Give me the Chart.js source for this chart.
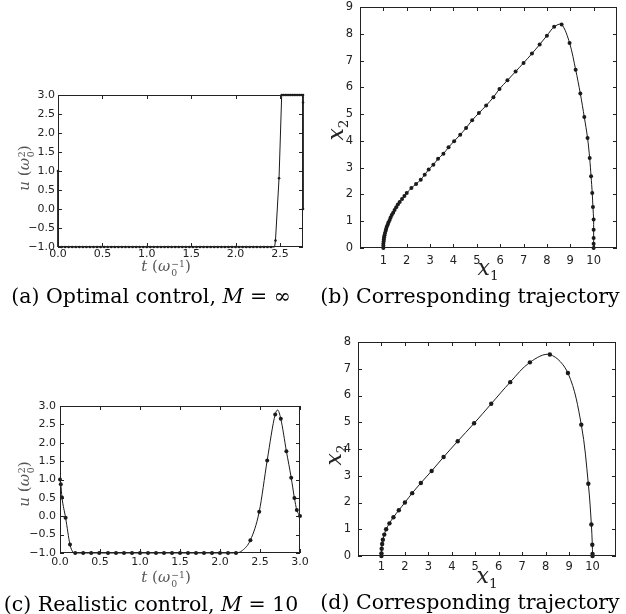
<!DOCTYPE html>
<html>
<head>
<meta charset="utf-8">
<script src="https://cdn.jsdelivr.net/npm/chart.js@4.4.1/dist/chart.umd.min.js"></script>
<style>
  html, body { margin: 0; padding: 0; background: #fff; }
  body { width: 626px; height: 614px; position: relative; overflow: hidden; font-family: "DejaVu Serif", serif; }
  .panel { position: absolute; width: 313px; height: 307px; }
  .panel canvas { position: absolute; left: 0; top: 0; }
  .cap { position: absolute; font-size: 20.5px; line-height: 1; color: #000; white-space: nowrap; transform: translateX(-50%); }
  .ttl { position: absolute; line-height: 1; white-space: nowrap; transform: translate(-50%, -50%); }
  .ttl.rot { transform: translate(-50%, -50%) rotate(-90deg); }
  .ttl.u { font-size: 15px; color: #555; }
  .ttl.x { font-size: 22px; color: #222; }
  .ss { display: inline-flex; flex-direction: column; font-size: 0.62em; line-height: 1; vertical-align: 0.45em; margin-left: 1px; }
  .sub { font-size: 0.62em; vertical-align: -0.35em; }
</style>
</head>
<body>

<div class="panel" style="left:0;top:0"><canvas id="chartA" width="313" height="307"></canvas></div>
<div class="panel" style="left:313px;top:0"><canvas id="chartB" width="313" height="307"></canvas></div>
<div class="panel" style="left:0;top:307px"><canvas id="chartC" width="313" height="307"></canvas></div>
<div class="panel" style="left:313px;top:307px"><canvas id="chartD" width="313" height="307"></canvas></div>

<!-- axis titles -->
<div class="ttl u rot" style="left:26px;top:168px"><i>u</i> (<i>ω</i><span class="ss"><span>2</span><span>0</span></span>)</div>
<div class="ttl u" style="left:166px;top:268px"><i>t</i> (<i>ω</i><span class="ss"><span>−1</span><span>0</span></span>)</div>
<div class="ttl x rot" style="left:338px;top:130px"><i>x</i><span class="sub">2</span></div>
<div class="ttl x" style="left:488px;top:270px"><i>x</i><span class="sub">1</span></div>

<div class="ttl u rot" style="left:26px;top:484px"><i>u</i> (<i>ω</i><span class="ss"><span>2</span><span>0</span></span>)</div>
<div class="ttl u" style="left:166px;top:579px"><i>t</i> (<i>ω</i><span class="ss"><span>−1</span><span>0</span></span>)</div>
<div class="ttl x rot" style="left:336px;top:455px"><i>x</i><span class="sub">2</span></div>
<div class="ttl x" style="left:487px;top:578px"><i>x</i><span class="sub">1</span></div>

<!-- captions -->
<div class="cap" style="left:151px;top:286px">(a) Optimal control, <i>M</i> = ∞</div>
<div class="cap" style="left:470px;top:286px">(b) Corresponding trajectory</div>
<div class="cap" style="left:151px;top:594px">(c) Realistic control, <i>M</i> = 10</div>
<div class="cap" style="left:470px;top:592px">(d) Corresponding trajectory</div>

<script>
/* =========================
   DATA
========================= */

// (a) optimal control, bang-bang
const aLineT = [0, 0, 2.44, 2.45, 2.49, 2.52, 2.76, 2.76];
const aLineU = [1.0, -1.0, -1.0, -0.83, 0.81, 3.0, 3.0, 0.0];
const aDotT = [0, 0.04, 0.08, 0.12, 0.16, 0.2, 0.24, 0.28, 0.32, 0.36, 0.4, 0.44, 0.48, 0.52, 0.56, 0.6,
  0.64, 0.68, 0.72, 0.76, 0.8, 0.84, 0.88, 0.92, 0.96, 1.0, 1.04, 1.08, 1.12, 1.16, 1.2, 1.24, 1.28,
  1.32, 1.36, 1.4, 1.44, 1.48, 1.52, 1.56, 1.6, 1.64, 1.68, 1.72, 1.76, 1.8, 1.84, 1.88, 1.92, 1.96,
  2.0, 2.04, 2.08, 2.12, 2.16, 2.2, 2.24, 2.28, 2.32, 2.36, 2.4, 2.45, 2.49,
  2.52, 2.54, 2.56, 2.58, 2.6, 2.62, 2.64, 2.66, 2.68, 2.7, 2.72, 2.74, 2.76, 2.76, 2.76];
const aDotU = [1.0, -1, -1, -1, -1, -1, -1, -1, -1, -1, -1, -1, -1, -1, -1, -1,
  -1, -1, -1, -1, -1, -1, -1, -1, -1, -1, -1, -1, -1, -1, -1, -1, -1,
  -1, -1, -1, -1, -1, -1, -1, -1, -1, -1, -1, -1, -1, -1, -1, -1, -1,
  -1, -1, -1, -1, -1, -1, -1, -1, -1, -1, -1, -0.83, 0.81,
  3, 3, 3, 3, 3, 3, 3, 3, 3, 3, 3, 3, 3, 2.8, 0.0];

// (b) trajectory for (a)
const bX = [1.0, 1.0, 1.0, 1.01, 1.02, 1.03, 1.05, 1.07, 1.1, 1.12, 1.15, 1.19, 1.22, 1.27, 1.31, 1.36,
  1.42, 1.48, 1.55, 1.62, 1.7, 1.8, 1.9, 2.0, 2.2, 2.4, 2.6, 2.77, 2.94, 3.14, 3.34, 3.57, 3.79, 4.03,
  4.29, 4.54, 4.8, 5.09, 5.4, 5.71, 5.97, 6.31, 6.66, 7.0, 7.36, 7.69, 8.0, 8.31, 8.63, 8.97, 9.23,
  9.43, 9.6, 9.74, 9.83, 9.89, 9.94, 9.97, 10.0, 10.0, 10.0, 10.0, 10.0];
const bY = [0.0, 0.08, 0.16, 0.24, 0.32, 0.4, 0.48, 0.56, 0.64, 0.72, 0.8, 0.88, 0.96, 1.05, 1.14, 1.23,
  1.32, 1.42, 1.52, 1.62, 1.72, 1.83, 1.94, 2.05, 2.24, 2.39, 2.55, 2.74, 2.93, 3.11, 3.33, 3.52, 3.76, 3.99,
  4.23, 4.48, 4.77, 5.04, 5.32, 5.63, 5.94, 6.26, 6.59, 6.91, 7.26, 7.6, 7.93, 8.26, 8.35, 7.66, 6.66,
  5.77, 4.89, 4.11, 3.36, 2.68, 2.05, 1.53, 1.06, 0.68, 0.37, 0.16, 0.0];

// (c) realistic control, M = 10
const cLineT = [0, 0.01, 0.025, 0.07, 0.125, 0.16, 0.19, 2.2, 2.28, 2.38, 2.49, 2.59, 2.69, 2.72, 2.76, 2.83, 2.89, 2.93, 2.96, 3.0];
const cLineU = [1.0, 0.87, 0.51, -0.04, -0.77, -0.97, -1.0, -1.0, -0.93, -0.65, 0.12, 1.52, 2.77, 2.89, 2.65, 1.77, 1.05, 0.5, 0.17, 0.01];
const cDotT = [0, 0.01, 0.025, 0.07, 0.125, 0.19, 0.29, 0.39, 0.49, 0.6, 0.7, 0.8, 0.9, 1.0, 1.1, 1.2, 1.3,
  1.4, 1.5, 1.6, 1.7, 1.8, 1.9, 2.0, 2.1, 2.2, 2.38, 2.49, 2.59, 2.69, 2.76, 2.83, 2.89, 2.93, 2.96, 3.0];
const cDotU = [1.0, 0.87, 0.51, -0.04, -0.77, -1, -1, -1, -1, -1, -1, -1, -1, -1, -1, -1, -1,
  -1, -1, -1, -1, -1, -1, -1, -1, -1, -0.65, 0.12, 1.52, 2.77, 2.65, 1.77, 1.05, 0.5, 0.17, 0.01];

// (d) trajectory for (c)
const dX = [1.0, 1.0, 1.01, 1.03, 1.06, 1.12, 1.2, 1.34, 1.51, 1.74, 2.0, 2.31, 2.68, 3.14, 3.65, 4.25,
  4.95, 5.68, 6.49, 7.33, 8.18, 8.95, 9.52, 9.82, 9.95, 9.99, 10.0, 10.0];
const dY = [0.0, 0.1, 0.27, 0.45, 0.61, 0.8, 1.0, 1.22, 1.45, 1.71, 2.0, 2.35, 2.73, 3.18, 3.7, 4.29,
  4.96, 5.69, 6.5, 7.24, 7.53, 6.84, 4.91, 2.7, 1.18, 0.42, 0.08, 0.0];

// tick values
const uTicks = [-1, -0.5, 0, 0.5, 1, 1.5, 2, 2.5, 3];
const tTicksA = [0, 0.5, 1, 1.5, 2, 2.5];
const tTicksC = [0, 0.5, 1, 1.5, 2, 2.5, 3];
const x1Ticks = [1, 2, 3, 4, 5, 6, 7, 8, 9, 10];
const x2TicksB = [0, 1, 2, 3, 4, 5, 6, 7, 8, 9];
const x2TicksD = [0, 1, 2, 3, 4, 5, 6, 7, 8];

/* =========================
   HELPERS
========================= */
const INK = "#1a1a1a";

function pts(xs, ys) {
  return xs.map((x, i) => ({ x: x, y: ys[i] }));
}

function fmt1(v) {
  return (v < 0 ? "\u2212" : "") + Math.abs(v).toFixed(1);
}

// matplotlib-like box with inward ticks on all four sides
const framePlugin = {
  id: "frame",
  afterDatasetsDraw(chart) {
    const { ctx, chartArea: a, scales: { x, y } } = chart;
    const L = 4;
    ctx.save();
    ctx.strokeStyle = "#222";
    ctx.lineWidth = 1;
    ctx.beginPath();
    x.ticks.forEach(t => {
      const px = Math.round(x.getPixelForValue(t.value)) + 0.5;
      ctx.moveTo(px, a.bottom); ctx.lineTo(px, a.bottom - L);
      ctx.moveTo(px, a.top); ctx.lineTo(px, a.top + L);
    });
    y.ticks.forEach(t => {
      const py = Math.round(y.getPixelForValue(t.value)) + 0.5;
      ctx.moveTo(a.left, py); ctx.lineTo(a.left + L, py);
      ctx.moveTo(a.right, py); ctx.lineTo(a.right - L, py);
    });
    ctx.stroke();
    ctx.strokeRect(a.left + 0.5, a.top + 0.5, a.right - a.left - 1, a.bottom - a.top - 1);
    ctx.restore();
  }
};

// area = [left, top, right, bottom] of the plot box inside its 313x307 panel
function panelChart(id, o) {
  const W = 313, H = 307, yw = 36, xh = 20;
  const [l, t, r, b] = o.area;
  const font = { family: "'DejaVu Sans', sans-serif", size: o.fontSize || 11 };

  return new Chart(document.getElementById(id), {
    type: "scatter",
    data: { datasets: o.datasets },
    options: {
      responsive: false,
      animation: false,
      layout: { padding: { left: l - yw, top: t, right: W - r, bottom: H - b - xh } },
      plugins: { legend: { display: false }, tooltip: { enabled: false } },
      scales: {
        x: {
          type: "linear", min: o.xMin, max: o.xMax,
          grid: { display: false, drawTicks: false },
          border: { display: false },
          afterBuildTicks: s => { s.ticks = o.xTicks.map(v => ({ value: v })); },
          afterFit: s => { s.height = xh; s.paddingLeft = 0; s.paddingRight = 0; },
          ticks: { color: "#222", font, padding: o.xPad, maxRotation: 0, autoSkip: false, callback: o.fmt }
        },
        y: {
          type: "linear", min: o.yMin, max: o.yMax,
          grid: { display: false, drawTicks: false },
          border: { display: false },
          afterBuildTicks: s => { s.ticks = o.yTicks.map(v => ({ value: v })); },
          afterFit: s => { s.width = yw; s.paddingTop = 0; s.paddingBottom = 0; },
          ticks: { color: "#222", font, padding: o.yPad, autoSkip: false, callback: o.fmt }
        }
      }
    },
    plugins: [framePlugin]
  });
}

function lineSet(data, tension, mode) {
  return {
    data, showLine: true, pointRadius: 0, borderColor: INK, borderWidth: 1,
    tension: tension, cubicInterpolationMode: mode || "default", clip: 6
  };
}
function dotSet(data, r) {
  return {
    data, showLine: false, pointRadius: r, pointBackgroundColor: INK,
    pointBorderWidth: 0, clip: 6
  };
}

/* =========================
   CHARTS
========================= */
panelChart("chartA", {
  area: [58, 95, 303, 247],
  xMin: 0, xMax: 2.76, yMin: -1, yMax: 3,
  xTicks: tTicksA, yTicks: uTicks, fmt: fmt1, xPad: 1, yPad: 3,
  datasets: [lineSet(pts(aLineT, aLineU), 0), dotSet(pts(aDotT, aDotU), 1.3)]
});

panelChart("chartB", {
  area: [47, 7, 304, 248],
  xMin: 0, xMax: 11, yMin: 0, yMax: 9, fontSize: 11.5,
  xTicks: x1Ticks, yTicks: x2TicksB, fmt: v => String(v), xPad: 6, yPad: 7,
  datasets: [lineSet(pts(bX, bY), 0.3), dotSet(pts(bX, bY), 2)]
});

panelChart("chartC", {
  area: [60, 99, 300, 246],
  xMin: 0, xMax: 3, yMin: -1, yMax: 3,
  xTicks: tTicksC, yTicks: uTicks, fmt: fmt1, xPad: 3, yPad: 4,
  datasets: [lineSet(pts(cLineT, cLineU), 0.4, "monotone"), dotSet(pts(cDotT, cDotU), 2)]
});

panelChart("chartD", {
  area: [45, 35, 303, 249],
  xMin: 0, xMax: 11, yMin: 0, yMax: 8, fontSize: 11.5,
  xTicks: x1Ticks, yTicks: x2TicksD, fmt: v => String(v), xPad: 4, yPad: 7,
  datasets: [lineSet(pts(dX, dY), 0.35), dotSet(pts(dX, dY), 2.2)]
});
</script>
</body>
</html>
